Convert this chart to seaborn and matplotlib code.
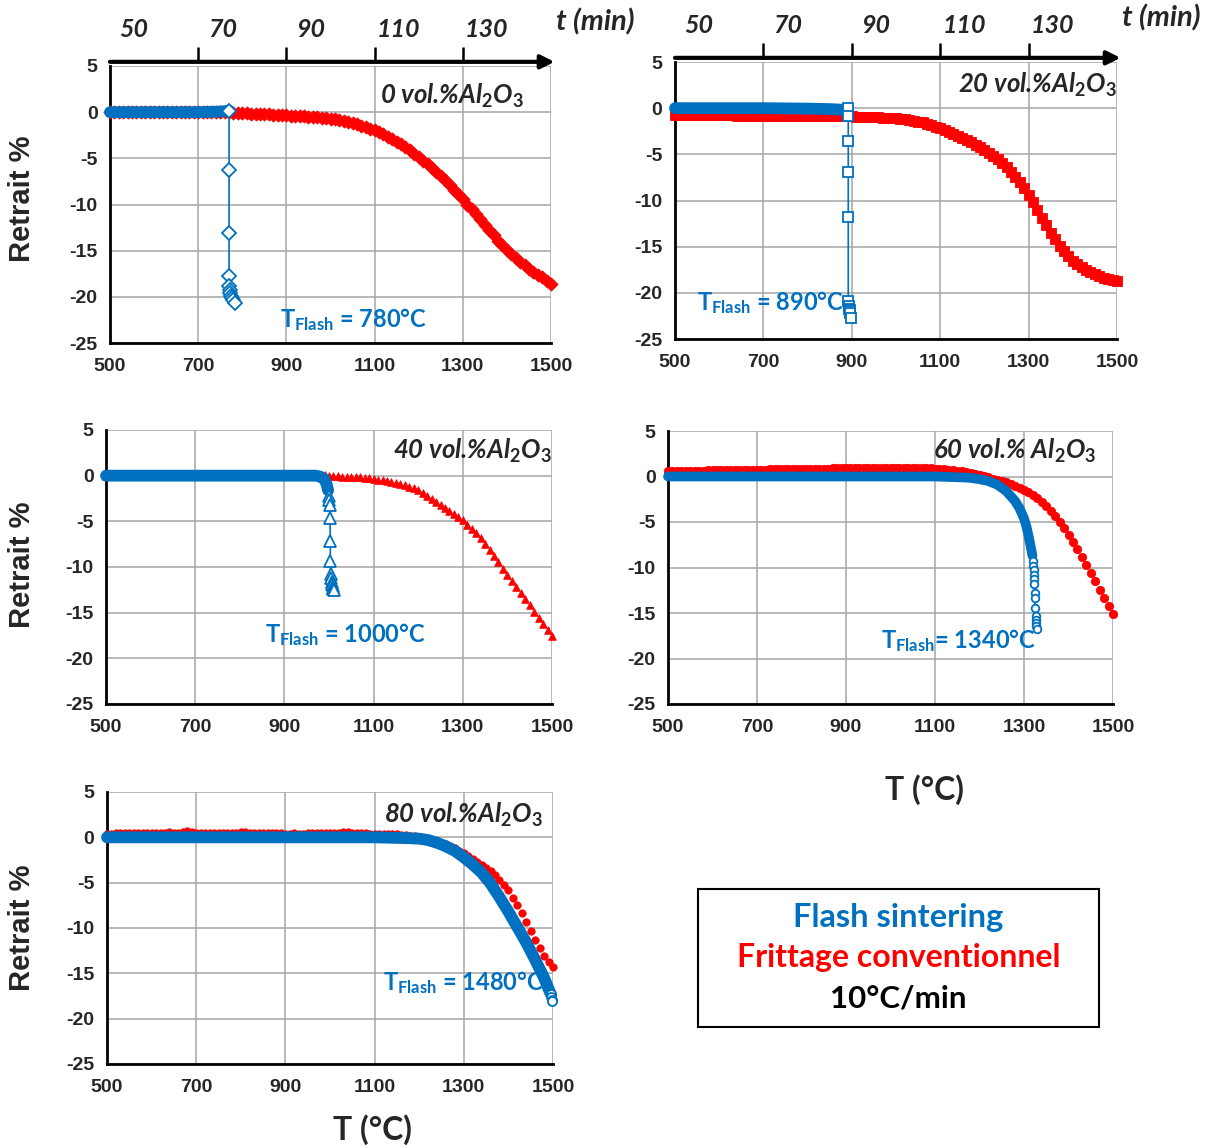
import matplotlib
matplotlib.use("Agg")
import matplotlib.pyplot as plt
import matplotlib.transforms as mtransforms
import seaborn as sns

BLUE = "#0070C0"
RED = "#FF0000"
TICK_FONT = ["Liberation Sans Narrow", "Liberation Sans", "DejaVu Sans"]

X_TICKS = [500, 700, 900, 1100, 1300, 1500]
Y_TICKS = [-25, -20, -15, -10, -5, 0, 5]
T_MIN_TICKS = [50, 70, 90, 110, 130]

# temperature of the conventional sintering readings (°C), one per minute at 10°C/min
T_GRID = [500, 510, 520, 530, 540, 550, 560, 570, 580, 590,
          600, 610, 620, 630, 640, 650, 660, 670, 680, 690,
          700, 710, 720, 730, 740, 750, 760, 770, 780, 790,
          800, 810, 820, 830, 840, 850, 860, 870, 880, 890,
          900, 910, 920, 930, 940, 950, 960, 970, 980, 990,
          1000, 1010, 1020, 1030, 1040, 1050, 1060, 1070, 1080, 1090,
          1100, 1110, 1120, 1130, 1140, 1150, 1160, 1170, 1180, 1190,
          1200, 1210, 1220, 1230, 1240, 1250, 1260, 1270, 1280, 1290,
          1300, 1310, 1320, 1330, 1340, 1350, 1360, 1370, 1380, 1390,
          1400, 1410, 1420, 1430, 1440, 1450, 1460, 1470, 1480, 1490,
          1500]

# conventional sintering (red), shrinkage %
RED_0 = [0.0, 0.0, 0.0, 0.0, 0.0, 0.0, 0.0, 0.0, 0.0, 0.0,
         0.0, 0.0, 0.0, 0.0, 0.0, 0.0, 0.0, 0.0, 0.0, 0.0,
         0.0, 0.0, 0.0, 0.0, 0.0, 0.0, 0.0, 0.0, -0.05, -0.08,
         -0.1, -0.12, -0.15, -0.18, -0.2, -0.22, -0.25, -0.28, -0.3, -0.32,
         -0.35, -0.38, -0.4, -0.42, -0.45, -0.48, -0.5, -0.55, -0.6, -0.65,
         -0.7, -0.78, -0.85, -0.95, -1.05, -1.18, -1.3, -1.45, -1.6, -1.78,
         -1.95, -2.15, -2.4, -2.65, -2.9, -3.2, -3.5, -3.8, -4.15, -4.5,
         -4.85, -5.25, -5.65, -6.05, -6.5, -6.95, -7.4, -7.9, -8.4, -8.9,
         -9.45, -10.0, -10.5, -11.05, -11.6, -12.2, -12.8, -13.35, -13.9, -14.4,
         -14.9, -15.35, -15.8, -16.2, -16.6, -16.95, -17.3, -17.6, -17.9, -18.25,
         -18.6]
RED_20 = [-0.7, -0.7, -0.7, -0.7, -0.7, -0.7, -0.75, -0.75, -0.75, -0.75,
          -0.75, -0.75, -0.75, -0.75, -0.8, -0.8, -0.8, -0.8, -0.8, -0.8,
          -0.8, -0.8, -0.8, -0.8, -0.85, -0.85, -0.85, -0.85, -0.85, -0.85,
          -0.85, -0.85, -0.85, -0.85, -0.9, -0.9, -0.9, -0.9, -0.9, -0.9,
          -0.9, -0.92, -0.95, -0.97, -1.0, -1.0, -1.0, -1.02, -1.05, -1.08,
          -1.1, -1.15, -1.2, -1.27, -1.35, -1.45, -1.55, -1.7, -1.85, -2.0,
          -2.2, -2.4, -2.6, -2.8, -3.0, -3.22, -3.45, -3.7, -3.95, -4.2,
          -4.5, -4.85, -5.2, -5.55, -5.95, -6.4, -6.9, -7.45, -8.05, -8.7,
          -9.4, -10.2, -11.0, -11.85, -12.7, -13.5, -14.2, -14.9, -15.5, -16.0,
          -16.5, -16.85, -17.2, -17.5, -17.75, -18.0, -18.2, -18.35, -18.5, -18.65,
          -18.75]
RED_40 = [0.0, 0.0, 0.0, 0.0, 0.0, 0.0, 0.0, 0.0, 0.0, 0.0,
          0.0, 0.0, 0.0, 0.0, 0.0, 0.0, 0.0, 0.0, 0.0, 0.0,
          0.0, 0.0, 0.0, 0.0, 0.0, 0.0, 0.0, 0.0, 0.0, 0.0,
          0.0, 0.0, 0.0, 0.0, 0.0, 0.0, 0.0, 0.0, 0.0, 0.0,
          0.0, 0.0, 0.0, 0.0, 0.0, 0.0, 0.0, 0.0, 0.05, 0.05,
          0.0, -0.03, -0.07, -0.1, -0.12, -0.15, -0.18, -0.2, -0.23, -0.28,
          -0.35, -0.42, -0.5, -0.6, -0.7, -0.8, -0.9, -1.05, -1.2, -1.4,
          -1.6, -1.9, -2.2, -2.55, -2.9, -3.2, -3.5, -3.85, -4.2, -4.55,
          -4.9, -5.35, -5.8, -6.3, -6.8, -7.45, -8.1, -8.8, -9.5, -10.2,
          -10.9, -11.55, -12.2, -12.85, -13.5, -14.2, -14.9, -15.55, -16.2, -16.9,
          -17.6]
RED_60 = [0.6, 0.6, 0.6, 0.6, 0.65, 0.65, 0.65, 0.65, 0.65, 0.68,
          0.7, 0.7, 0.7, 0.7, 0.7, 0.7, 0.7, 0.72, 0.75, 0.75,
          0.75, 0.75, 0.75, 0.78, 0.8, 0.8, 0.8, 0.8, 0.8, 0.8,
          0.8, 0.82, 0.85, 0.85, 0.85, 0.85, 0.85, 0.88, 0.9, 0.9,
          0.9, 0.9, 0.9, 0.9, 0.9, 0.92, 0.95, 0.95, 0.95, 0.95,
          0.95, 0.95, 0.95, 0.95, 0.95, 0.95, 0.95, 0.92, 0.9, 0.88,
          0.85, 0.82, 0.8, 0.75, 0.7, 0.62, 0.55, 0.48, 0.4, 0.28,
          0.15, 0.02, -0.1, -0.22, -0.35, -0.5, -0.65, -0.82, -1.0, -1.22,
          -1.45, -1.7, -2.0, -2.38, -2.8, -3.28, -3.8, -4.38, -5.0, -5.68,
          -6.4, -7.18, -8.0, -8.85, -9.7, -10.6, -11.5, -12.45, -13.4, -14.25,
          -15.1]
RED_80 = [0.4, 0.42, 0.45, 0.5, 0.5, 0.5, 0.5, 0.48, 0.45, 0.5,
          0.5, 0.5, 0.5, 0.52, 0.55, 0.5, 0.5, 0.55, 0.65, 0.55,
          0.5, 0.48, 0.45, 0.5, 0.5, 0.48, 0.45, 0.5, 0.5, 0.52,
          0.55, 0.6, 0.5, 0.5, 0.45, 0.48, 0.5, 0.5, 0.45, 0.45,
          0.4, 0.42, 0.45, 0.42, 0.4, 0.45, 0.45, 0.45, 0.45, 0.45,
          0.45, 0.48, 0.5, 0.55, 0.55, 0.5, 0.45, 0.45, 0.45, 0.42,
          0.4, 0.4, 0.4, 0.38, 0.35, 0.32, 0.3, 0.25, 0.2, 0.12,
          0.05, -0.05, -0.15, -0.28, -0.4, -0.58, -0.75, -0.98, -1.2, -1.48,
          -1.75, -2.08, -2.4, -2.7, -3.0, -3.35, -3.7, -4.2, -4.7, -5.25,
          -5.8, -6.65, -7.5, -8.4, -9.3, -10.3, -11.3, -12.2, -13.1, -13.7,
          -14.3]

# flash sintering (blue): dense part (band) then the flash drop
B0_BAND_T = [500, 700, 740, 760, 770]
B0_BAND_Y = [0.0, 0.0, 0.05, 0.1, 0.15]
B0_DROP_T = [770, 770, 770, 770, 770, 771, 772, 774, 777, 780, 784]
B0_DROP_Y = [0.1, -6.3, -13.1, -17.7, -18.8, -19.3, -19.6, -19.9, -20.1, -20.3, -20.7]

B20_BAND_T = [500, 700, 800, 850, 890]
B20_BAND_Y = [0.0, 0.0, -0.05, -0.1, -0.2]
B20_DROP_T = [892, 892, 892, 892, 892, 892, 893, 894, 895, 896, 897, 899]
B20_DROP_Y = [0.0, -0.8, -3.6, -6.9, -11.8, -20.9, -21.4, -21.7, -21.9, -22.0, -22.2, -22.7]

B40_BAND_T = [500, 900, 960, 970, 980, 990, 995, 998]
B40_BAND_Y = [0.0, 0.0, 0.0, 0.0, -0.1, -0.4, -1.0, -1.6]
B40_DROP_T = [1000, 1001, 1002, 1002, 1003, 1003, 1004, 1005, 1006, 1007, 1008, 1009, 1010, 1012]
B40_DROP_Y = [-2.2, -2.7, -3.2, -4.6, -7.1, -9.3, -10.8, -11.2, -11.6, -11.9, -12.1, -12.3, -12.4, -12.5]

B60_BAND_T = [500, 900, 1100, 1160, 1180, 1200, 1220, 1240, 1260, 1280, 1290, 1300, 1306, 1311, 1315, 1319]
B60_BAND_Y = [0.0, 0.0, 0.0, -0.1, -0.15, -0.3, -0.5, -0.9, -1.6, -2.7, -3.5, -4.6, -5.6, -6.7, -7.7, -8.7]
B60_DROP_T = [1320, 1321, 1322, 1322, 1323, 1323, 1324, 1324, 1325, 1326, 1326, 1327, 1328, 1329]
B60_DROP_Y = [-9.3, -9.8, -10.3, -10.8, -11.3, -11.8, -12.8, -13.4, -14.4, -15.3, -15.8, -16.1, -16.4, -16.8]

B80_BAND_T = [500, 900, 1100, 1180, 1200, 1220, 1240, 1260, 1280, 1300, 1320, 1340,
              1360, 1380, 1400, 1420, 1440, 1460, 1480, 1490, 1495]
B80_BAND_Y = [0.0, 0.0, 0.0, -0.1, -0.15, -0.3, -0.6, -1.0, -1.5, -2.2, -3.0, -3.9,
              -5.1, -6.6, -8.2, -9.9, -11.6, -13.5, -15.5, -16.7, -17.3]
B80_DROP_T = [1495, 1496, 1497, 1498]
B80_DROP_Y = [-17.3, -17.6, -17.9, -18.1]

TITLES = ["0 vol.%Al$_{\\mathit{2}}$O$_{\\mathit{3}}$",
          "20 vol.%Al$_{\\mathit{2}}$O$_{\\mathit{3}}$",
          "40 vol.%Al$_{\\mathit{2}}$O$_{\\mathit{3}}$",
          "60 vol.% Al$_{\\mathit{2}}$O$_{\\mathit{3}}$",
          "80 vol.%Al$_{\\mathit{2}}$O$_{\\mathit{3}}$"]
T_FLASH = ["T$_{\\mathbf{Flash}}$ = 780°C",
           "T$_{\\mathbf{Flash}}$ = 890°C",
           "T$_{\\mathbf{Flash}}$ = 1000°C",
           "T$_{\\mathbf{Flash}}$= 1340°C",
           "T$_{\\mathbf{Flash}}$ = 1480°C"]

sns.set_style("white")
plt.rcParams["font.family"] = ["Lato", "DejaVu Sans"]
plt.rcParams["axes.unicode_minus"] = False
plt.rcParams["mathtext.fontset"] = "custom"
plt.rcParams["mathtext.rm"] = "Lato:bold"
plt.rcParams["mathtext.bf"] = "Lato:bold"
plt.rcParams["mathtext.it"] = "Lato:italic:bold"


def style_axes(ax):
    ax.set_xlim(500, 1500)
    ax.set_ylim(-25, 5)
    ax.set_xticks(X_TICKS)
    ax.set_yticks(Y_TICKS)
    ax.grid(True, color="#a6a6a6", lw=1.1)
    ax.set_axisbelow(True)
    for s in ["top", "right"]:
        ax.spines[s].set_visible(False)
    for s in ["left", "bottom"]:
        ax.spines[s].set_color("black")
        ax.spines[s].set_linewidth(2)
    ax.tick_params(direction="out", length=5, width=1.5, color="black", pad=4)
    ax.tick_params(axis="x", pad=6)
    for lab in ax.get_xticklabels() + ax.get_yticklabels():
        lab.set_family(TICK_FONT)
        lab.set_fontweight("bold")
        lab.set_fontsize(14)
    ax.set_xlabel("")
    ax.set_ylabel("")


def draw_panel(ax, red_y, red_marker, red_size, band_t, band_y, band_lw,
               drop_t, drop_y, drop_marker, drop_ms):
    sns.scatterplot(x=T_GRID, y=red_y, ax=ax, marker=red_marker, s=red_size,
                    color=RED, edgecolor=RED, linewidth=0.6, zorder=3,
                    clip_on=False, legend=False)
    sns.lineplot(x=band_t, y=band_y, ax=ax, estimator=None, sort=False,
                 color=BLUE, lw=band_lw, solid_capstyle="round", zorder=4,
                 clip_on=False)
    sns.lineplot(x=drop_t, y=drop_y, ax=ax, estimator=None, sort=False,
                 color=BLUE, lw=1.2, marker=drop_marker, markersize=drop_ms,
                 mfc="white", mec=BLUE, mew=1.3, zorder=5, clip_on=False)
    style_axes(ax)


def time_axis(ax):
    ax.annotate("", xy=(1.008, 1.015), xytext=(0.0, 1.015), xycoords="axes fraction",
                arrowprops=dict(arrowstyle="-|>", lw=3, color="black",
                                mutation_scale=20, shrinkA=0, shrinkB=0),
                annotation_clip=False)
    sec = ax.secondary_xaxis(1.015, functions=(lambda T: T / 10, lambda t: t * 10))
    sec.set_xticks(T_MIN_TICKS)
    for sp in sec.spines.values():
        sp.set_visible(False)
    sec.tick_params(direction="out", length=11, width=1.8, pad=4, color="black")
    ticks = sec.xaxis.get_major_ticks()
    ticks[0].tick1line.set_visible(False)
    ticks[0].tick2line.set_visible(False)
    shift = mtransforms.ScaledTranslation(0.24, 0, ax.figure.dpi_scale_trans)
    for lab in sec.get_xticklabels():
        lab.set_fontsize(18)
        lab.set_fontweight("bold")
        lab.set_fontstyle("italic")
        lab.set_transform(lab.get_transform() + shift)
    ax.text(1.1, 1.16, "t (min)", transform=ax.transAxes, ha="center", va="center",
            fontsize=21, fontweight="bold", fontstyle="italic")


fig = plt.figure(figsize=(12.1, 11.48), dpi=100)
W, H = 1210, 1148


def add_ax(left, top, right, bottom):
    return fig.add_axes([left / W, 1 - bottom / H, (right - left) / W, (bottom - top) / H])


ax0 = add_ax(110, 66, 551, 343)
ax20 = add_ax(675, 62, 1117, 339)
ax40 = add_ax(106, 430, 552, 704)
ax60 = add_ax(668, 431, 1113, 704)
ax80 = add_ax(107, 792, 553, 1064)

draw_panel(ax0, RED_0, "D", 45, B0_BAND_T, B0_BAND_Y, 8.5, B0_DROP_T, B0_DROP_Y, "D", 7)
draw_panel(ax20, RED_20, "s", 50, B20_BAND_T, B20_BAND_Y, 8.5, B20_DROP_T, B20_DROP_Y, "s", 7)
draw_panel(ax40, RED_40, "^", 30, B40_BAND_T, B40_BAND_Y, 8.5, B40_DROP_T, B40_DROP_Y, "^", 8)
draw_panel(ax60, RED_60, "o", 36, B60_BAND_T, B60_BAND_Y, 7, B60_DROP_T, B60_DROP_Y, "o", 5.5)
draw_panel(ax80, RED_80, "o", 28, B80_BAND_T, B80_BAND_Y, 8.5, B80_DROP_T, B80_DROP_Y, "o", 6.5)

time_axis(ax0)
time_axis(ax20)

axes = [ax0, ax20, ax40, ax60, ax80]
title_pos = [(0.939, 0.892), (1.0, 0.917), (1.0, 0.923), (0.964, 0.927), (0.978, 0.915)]
flash_pos = [(0.385, 0.083), (0.05, 0.13), (0.356, 0.255), (0.479, 0.231), (0.619, 0.298)]
for ax, title, tp, fl, fp in zip(axes, TITLES, title_pos, T_FLASH, flash_pos):
    ax.text(tp[0], tp[1], title, transform=ax.transAxes, ha="right", va="center",
            fontsize=18.5, fontweight="bold", fontstyle="italic", zorder=6)
    ax.text(fp[0], fp[1], fl, transform=ax.transAxes, ha="left", va="center",
            fontsize=17, fontweight="bold", color=BLUE, zorder=6)

for y in [199, 565, 928]:
    fig.text(22 / W, 1 - y / H, "Retrait %", rotation=90, ha="center", va="center",
             fontsize=21, fontweight="bold", family=["Liberation Sans", "DejaVu Sans"])

fig.text(924 / W, 1 - 790 / H, "T (°C)", ha="center", va="center", fontsize=23, fontweight="bold")
fig.text(372 / W, 1 - 1130 / H, "T (°C)", ha="center", va="center", fontsize=23, fontweight="bold")

# legend box
leg = add_ax(698, 889, 1099, 1027)
leg.set_xticks([])
leg.set_yticks([])
for sp in leg.spines.values():
    sp.set_visible(True)
    sp.set_color("black")
    sp.set_linewidth(1.5)
leg.text(0.5, 0.797, "Flash sintering", color=BLUE, ha="center", va="center",
         fontsize=23.5, fontweight="bold", transform=leg.transAxes)
leg.text(0.5, 0.5, "Frittage conventionnel", color=RED, ha="center", va="center",
         fontsize=23, fontweight="bold", transform=leg.transAxes)
leg.text(0.5, 0.203, "10°C/min", color="black", ha="center", va="center",
         fontsize=22.5, fontweight="bold", transform=leg.transAxes)

fig.savefig("out.png", dpi=100)
